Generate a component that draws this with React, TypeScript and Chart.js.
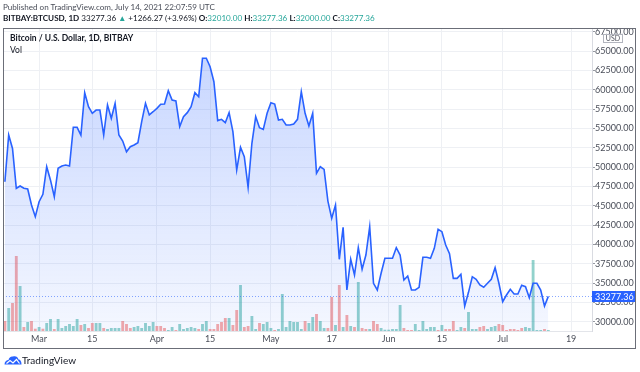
import React, { useEffect, useRef } from "react";
import { Chart, registerables } from "chart.js";

Chart.register(...registerables);

// ---- data (BITBAY:BTCUSD, 1D, from 2021-02-20) ----
const START_DATE = "2021-02-20";
const N_CATEGORIES = 155; // visible days on the time axis (to 2021-07-24)

const CLOSES = [
  48100, 54140, 52400, 47250, 47550, 47250, 47160, 45090, 43580, 45520,
  46470, 50040, 48300, 46160, 49830, 50130, 50260, 50130, 55140, 55140,
  54140, 59610, 57800, 56940, 57370, 57370, 54140, 58020, 56300, 58240,
  54140, 53360, 51980, 52630, 52850, 53150, 55860, 58240, 56730, 57150,
  57590, 58110, 58150, 59870, 58670, 58540, 55220, 56510, 57030, 57800,
  59610, 59090, 64060, 64060, 62970, 61030, 56000, 56170, 55730, 57030,
  54570, 49610, 52550, 51330, 47380, 53070, 56510, 55090, 54870, 56940,
  58320, 58150, 56080, 56170, 55430, 55430, 55560, 56170, 59740, 56940,
  55300, 56940, 49190, 50040, 49700, 45600, 43370, 45090, 38070, 42210,
  34100, 38070, 36040, 39570, 36780, 38620, 42280, 34970, 34100, 36260,
  38200, 38200, 38200, 39570, 38620, 35390, 35910, 34100, 34100, 34450,
  38330, 38330, 38200, 39490, 41950, 41640, 39920, 38800, 35610, 35610,
  36130, 32030, 33800, 35820, 35480, 34750, 34450, 34970, 35480, 36990,
  34970, 32590, 33450, 34190, 33580, 33580, 34710, 34530, 33100, 34970,
  34970, 34100, 32030, 33277.36,
];

const VOLUMES = [
  100, 230, 280, 750, 450, 40, 90, 100, 23, 40,
  23, 80, 120, 20, 120, 30, 50, 70, 50, 120,
  60, 70, 30, 80, 80, 80, 30, 20, 30, 30,
  30, 100, 70, 30, 40, 50, 30, 80, 50, 90,
  50, 50, 30, 10, 40, 10, 70, 20, 30, 40,
  30, 20, 70, 100, 20, 20, 70, 90, 130, 130,
  60, 210, 460, 40, 50, 150, 20, 80, 70, 90,
  30, 10, 20, 370, 40, 100, 90, 90, 20, 100,
  80, 140, 170, 100, 30, 30, 340, 60, 460, 40,
  160, 50, 40, 490, 30, 20, 20, 100, 70, 30,
  13, 13, 20, 20, 260, 30, 10, 10, 70, 10,
  100, 20, 40, 40, 10, 60, 20, 20, 100, 10,
  40, 30, 190, 20, 20, 40, 50, 20, 40, 50,
  70, 60, 10, 20, 20, 10, 30, 40, 30, 710,
  10, 10, 20, 10,
];

// 1 = up candle (green volume), 0 = down candle (red volume)
const VOL_UP = [
  0, 1, 0, 0, 1, 0, 1, 0, 0, 1,
  0, 1, 1, 0, 1, 1, 1, 1, 1, 1,
  0, 1, 0, 0, 1, 1, 0, 1, 1, 1,
  1, 0, 0, 0, 1, 1, 1, 1, 1, 1,
  0, 0, 0, 1, 1, 0, 1, 1, 1, 1,
  1, 0, 1, 1, 0, 0, 0, 0, 0, 1,
  0, 0, 1, 0, 0, 1, 1, 0, 1, 1,
  1, 0, 1, 1, 1, 1, 1, 1, 1, 0,
  1, 1, 0, 1, 1, 0, 0, 1, 0, 1,
  0, 1, 0, 1, 0, 0, 1, 0, 0, 1,
  1, 1, 1, 1, 1, 0, 0, 0, 1, 1,
  1, 1, 1, 1, 0, 1, 0, 0, 0, 1,
  1, 0, 1, 1, 1, 0, 0, 1, 1, 1,
  0, 0, 0, 0, 0, 0, 0, 1, 1, 1,
  1, 1, 0, 1,
];

const TICK_INDEX = [9, 23, 40, 54, 70, 86, 101, 115, 131, 149];
const TICK_LABELS = ["Mar", "15", "Apr", "15", "May", "17", "Jun", "15", "Jul", "19"];

const PRICE_TICKS = [
  30000, 32500, 35000, 37500, 40000, 42500, 45000, 47500, 50000, 52500,
  55000, 57500, 60000, 62500, 65000, 67500,
];
const PRICE_MIN = 28800;
const PRICE_MAX = 67975;
const VOL_MAX = 3030;

const LAST_CLOSE = 33277.36;

const FONT = "Lato, 'Noto Sans', sans-serif";
const BLUE = "#2962ff";
const TEAL = "#26a69a";

function dayLabels(): string[] {
  const out: string[] = [];
  const base = new Date(START_DATE + "T00:00:00Z").getTime();
  for (let i = 0; i < N_CATEGORIES; i++) {
    out.push(new Date(base + i * 86400000).toISOString().slice(0, 10));
  }
  return out;
}

const overlayPlugin = {
  id: "tvOverlay",
  afterDatasetsDraw(chart: any) {
    const { ctx, chartArea: a, scales } = chart;
    const y = Math.round(scales.y.getPixelForValue(LAST_CLOSE)) + 0.5;
    ctx.save();
    ctx.strokeStyle = "rgba(41,98,255,0.55)";
    ctx.lineWidth = 1;
    ctx.setLineDash([1, 2]);
    ctx.beginPath();
    ctx.moveTo(a.left, y);
    ctx.lineTo(a.right, y);
    ctx.stroke();
    ctx.restore();
  },
  afterDraw(chart: any) {
    const { ctx, chartArea: a, scales } = chart;
    ctx.save();
    // hide anything above the frame on the price axis
    ctx.fillStyle = "#ffffff";
    ctx.fillRect(a.right + 1, 0, 640 - a.right, 28);

    // last price label
    const y = scales.y.getPixelForValue(LAST_CLOSE);
    ctx.fillStyle = BLUE;
    ctx.fillRect(a.right, Math.round(y - 5.5), 43, 11);
    ctx.fillStyle = "#ffffff";
    ctx.font = `9px ${FONT}`;
    ctx.textBaseline = "middle";
    ctx.textAlign = "left";
    ctx.fillText(LAST_CLOSE.toFixed(2), a.right + 3, y + 0.5);

    // currency box
    ctx.fillStyle = "#ffffff";
    ctx.fillRect(603.5, 34.5, 19, 8);
    ctx.strokeStyle = "#b2b5be";
    ctx.lineWidth = 1;
    ctx.strokeRect(603.5, 34.5, 19, 8);
    ctx.fillStyle = "#50535e";
    ctx.font = `7px ${FONT}`;
    ctx.textAlign = "center";
    ctx.fillText("USD", 613, 39);

    // frame
    ctx.strokeStyle = "#6b6e78";
    ctx.lineWidth = 1;
    ctx.strokeRect(3.5, 28.5, 632, 320);
    ctx.restore();
  },
};

export default function App() {
  const canvasRef = useRef<HTMLCanvasElement | null>(null);

  useEffect(() => {
    const canvas = canvasRef.current;
    if (!canvas) return;
    const labels = dayLabels();

    const chart = new Chart(canvas, {
      type: "bar",
      data: {
        labels,
        datasets: [
          {
            type: "line",
            label: "Close",
            data: CLOSES,
            yAxisID: "y",
            borderColor: BLUE,
            borderWidth: 1.6,
            pointRadius: 0,
            tension: 0,
            fill: "start",
            backgroundColor: (c: any) => {
              const ch = c.chart;
              const area = ch.chartArea;
              if (!area) return "rgba(41,98,255,0.15)";
              const g = ch.ctx.createLinearGradient(0, area.top, 0, area.bottom);
              g.addColorStop(0, "rgba(41,98,255,0.28)");
              g.addColorStop(1, "rgba(41,98,255,0.05)");
              return g;
            },
            order: 0,
          } as any,
          {
            type: "bar",
            label: "Vol",
            data: VOLUMES,
            yAxisID: "yv",
            backgroundColor: VOL_UP.map((u) =>
              u ? "rgba(38,166,154,0.5)" : "rgba(239,83,80,0.5)"
            ),
            barPercentage: 0.75,
            categoryPercentage: 1,
            order: 1,
          } as any,
        ],
      },
      options: {
        animation: false,
        responsive: false,
        maintainAspectRatio: false,
        layout: { padding: { left: 3, top: 28, right: 0, bottom: 24 } },
        plugins: {
          legend: { display: false },
          tooltip: { enabled: false },
        },
        scales: {
          x: {
            type: "category",
            offset: true,
            grid: { color: "#eef0f4", offset: false, drawTicks: false },
            border: { color: "#e3e5ea" },
            ticks: {
              autoSkip: false,
              maxRotation: 0,
              padding: 3,
              color: "#4a4e59",
              font: { family: FONT, size: 9 },
              callback: (v: any) => {
                const k = TICK_INDEX.indexOf(Number(v));
                return k >= 0 ? TICK_LABELS[k] : "";
              },
            },
            afterBuildTicks: (s: any) => {
              s.ticks = TICK_INDEX.map((v) => ({ value: v }));
            },
            afterFit: (s: any) => {
              s.height = 17;
            },
          },
          y: {
            type: "linear",
            position: "right",
            min: PRICE_MIN,
            max: PRICE_MAX,
            grid: { color: "#eef0f4", tickColor: "#9598a1", tickLength: 3 },
            border: { color: "#d9dbe1" },
            ticks: {
              padding: 0,
              color: "#4a4e59",
              font: { family: FONT, size: 9 },
              callback: (v: any) => Number(v).toFixed(2),
            },
            afterBuildTicks: (s: any) => {
              s.ticks = PRICE_TICKS.map((v) => ({ value: v }));
            },
            afterFit: (s: any) => {
              s.width = 48;
            },
          },
          yv: {
            type: "linear",
            display: false,
            min: 0,
            max: VOL_MAX,
            grid: { display: false },
          },
        },
      } as any,
      plugins: [overlayPlugin],
    });
    return () => chart.destroy();
  }, []);

  const teal = { color: TEAL };
  return (
    <div
      style={{
        position: "fixed",
        left: 0,
        top: 0,
        width: 640,
        height: 372,
        background: "#ffffff",
        overflow: "hidden",
        fontFamily: FONT,
        color: "#131722",
      }}
    >
      <canvas
        ref={canvasRef}
        width={640}
        height={372}
        style={{ position: "absolute", left: 0, top: 0, width: 640, height: 372 }}
      />
      <div style={{ position: "absolute", left: 3, top: 1, fontSize: 8.1, color: "#4a4e59", whiteSpace: "nowrap", lineHeight: "12px" }}>
        Published on TradingView.com, July 14, 2021 22:07:59 UTC
      </div>
      <div style={{ position: "absolute", left: 3, top: 12, fontSize: 8.1, whiteSpace: "nowrap", lineHeight: "12px" }}>
        <b>BITBAY:BTCUSD, 1D</b> 33277.36 <span style={teal}>▲</span> +1266.27 (+3.96%){" "}
        <b>O:</b><span style={teal}>32010.00</span> <b>H:</b><span style={teal}>33277.36</span>{" "}
        <b>L:</b><span style={teal}>32000.00</span> <b>C:</b><span style={teal}>33277.36</span>
      </div>
      <div style={{ position: "absolute", left: 10, top: 32, fontSize: 8.5, fontWeight: 700, whiteSpace: "nowrap", lineHeight: "12px" }}>
        Bitcoin / U.S. Dollar, 1D, BITBAY
      </div>
      <div style={{ position: "absolute", left: 10, top: 44, fontSize: 8.5, whiteSpace: "nowrap", lineHeight: "12px" }}>
        Vol
      </div>
      <svg
        width={18}
        height={10}
        viewBox="0 0 18 10"
        style={{ position: "absolute", left: 4, top: 355 }}
      >
        <path
          d="M0.5 9.5 C0.5 6.5 2.5 5 4.5 5 C5 2.5 7 1 9 1.5 C11 0.5 14 1.5 14.5 4.5 C16.5 4.5 17.5 6.5 17.5 9.5 Z"
          fill={BLUE}
        />
        <path d="M2.5 8.5 L6 5.5 L9 8 L12.5 4.5 L15.5 8.5" stroke="#ffffff" strokeWidth={1.2} fill="none" />
      </svg>
      <div style={{ position: "absolute", left: 22, top: 354, fontSize: 10, whiteSpace: "nowrap", lineHeight: "12px", color: "#131722" }}>
        TradingView
      </div>
    </div>
  );
}
